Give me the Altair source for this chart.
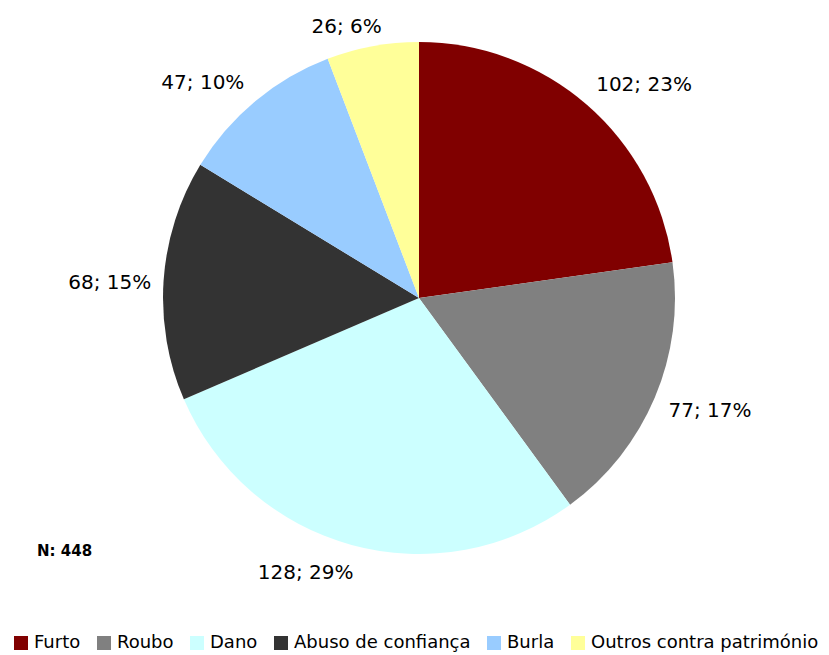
import altair as alt
import pandas as pd

categories = ["Furto", "Roubo", "Dano", "Abuso de confiança", "Burla", "Outros contra património"]
counts = [102, 77, 128, 68, 47, 26]
percents = [23, 17, 29, 15, 10, 6]
colors = ["#800000", "#808080", "#CCFFFF", "#333333", "#99CCFF", "#FFFF99"]
total_label = "N: 448"

# label nudges (style only): (dx, dy) per category, applied to labels at radius 305
label_nudges = {
    "Furto": (25, 17),
    "Roubo": (10, -6),
    "Dano": (-33, -19),
    "Abuso de confiança": (-5, 6),
    "Burla": (-21, 19),
    "Outros contra património": (-17, 29),
}

df = pd.DataFrame({
    "cat": categories,
    "n": counts,
    "order": list(range(len(categories))),
    "label": [f"{c}; {p}%" for c, p in zip(counts, percents)],
})

CX, CY = 411, 290
FONT = "DejaVu Sans"

base = alt.Chart(df).encode(
    theta=alt.Theta("n:Q", stack=True),
    order=alt.Order("order:Q", sort="ascending"),
)

pie = base.mark_arc(outerRadius=256, stroke=None).encode(
    x=alt.value(CX), y=alt.value(CY),
    color=alt.Color(
        "cat:N",
        scale=alt.Scale(domain=categories, range=colors),
        sort=categories,
        legend=alt.Legend(
            title=None, orient="none", direction="horizontal",
            legendX=4, legendY=626,
            symbolType="square", symbolSize=196, symbolStrokeWidth=0,
            labelFont=FONT, labelFontSize=18, labelColor="#000000",
            labelOffset=4, columnPadding=14, columns=6, labelLimit=400,
        ),
    ),
)

layers = [pie]
for cat in categories:
    dx, dy = label_nudges[cat]
    lab = base.mark_text(
        radius=305, font=FONT, fontSize=20, color="#000000", dx=dx, dy=dy
    ).encode(
        x=alt.value(CX), y=alt.value(CY),
        text="label:N",
        opacity=alt.condition(alt.datum.cat == cat, alt.value(1), alt.value(0)),
    )
    layers.append(lab)

ntext = alt.Chart(pd.DataFrame({"t": [total_label]})).mark_text(
    font=FONT, fontSize=15, fontWeight="bold", align="left", color="#000000"
).encode(x=alt.value(29), y=alt.value(543), text="t:N")
layers.append(ntext)

chart = alt.layer(*layers).properties(
    width=813, height=647, padding=0, autosize=alt.AutoSizeParams(type="none")
).configure_view(stroke=None)

chart.save("out.html", embed_options={"renderer": "svg", "actions": False})
